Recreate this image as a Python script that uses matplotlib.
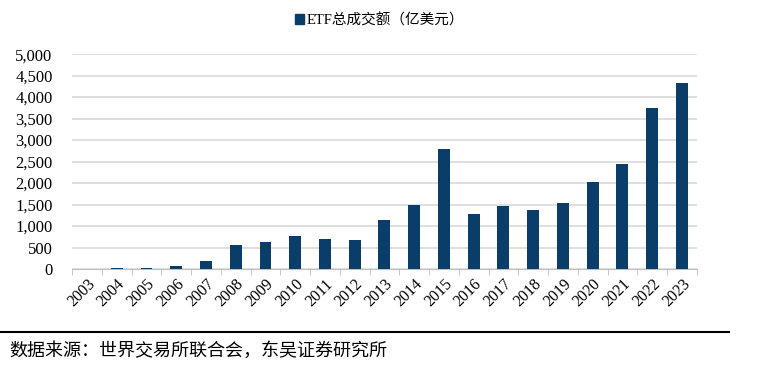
import matplotlib
matplotlib.use("Agg")
import matplotlib.pyplot as plt
from matplotlib.patches import Patch
from matplotlib.lines import Line2D
from matplotlib.ticker import FuncFormatter, FixedLocator

years = [str(y) for y in range(2003, 2024)]
volume = [5, 25, 20, 62, 195, 555, 633, 766, 688, 672, 1150,
          1490, 2783, 1287, 1465, 1380, 1535, 2023, 2434, 3752, 4333]
series_name = "ETF总成交额（亿美元）"
source_text = "数据来源：世界交易所联合会，东吴证券研究所"

fam = ['Liberation Serif', 'Noto Sans CJK SC']
plt.rcParams['font.family'] = fam

fig = plt.figure(figsize=(7.59, 3.66), dpi=100)
ax = fig.add_axes([0.095, 0.265, 0.823, 0.587])

color = '#0b3d6b'
x = list(range(len(years)))
ax.bar(x, volume, width=0.4, color=color, zorder=3)

ax.set_xlim(-0.5, len(years) - 0.5)
ax.set_ylim(0, 5000)
ax.set_yticks(range(0, 5001, 500))
ax.yaxis.set_major_formatter(FuncFormatter(lambda v, p: f"{int(v):,}"))
ax.grid(axis='y', color='#d9d9d9', linewidth=1.2, zorder=0)
ax.tick_params(axis='y', length=0, labelsize=12, pad=14)

ax.set_xticks(x)
ax.set_xticklabels(years, rotation=45, ha='right', rotation_mode='anchor', fontsize=11.5)
ax.tick_params(axis='x', which='major', length=0, pad=5)
ax.xaxis.set_minor_locator(FixedLocator([i - 0.5 for i in range(len(years) + 1)]))
ax.tick_params(axis='x', which='minor', length=4, color='#bfbfbf')

for s in ['top', 'right', 'left']:
    ax.spines[s].set_visible(False)
ax.spines['bottom'].set_color('#bfbfbf')

handle = Patch(facecolor=color, edgecolor=color)
fig.legend([handle], [series_name], loc='center', bbox_to_anchor=(0.5, 1 - 20 / 366),
           frameon=False, handlelength=0.6, handleheight=0.6, handletextpad=0.2,
           prop={'family': fam, 'size': 10.5})

fig.add_artist(Line2D([0, 0.96], [1 - 332 / 366, 1 - 332 / 366], color='black', linewidth=1.5,
                      transform=fig.transFigure))
fig.text(0.012, 1 - 351 / 366, source_text, fontsize=13, va='center', ha='left', family=fam)

fig.savefig('out.png', dpi=100)
